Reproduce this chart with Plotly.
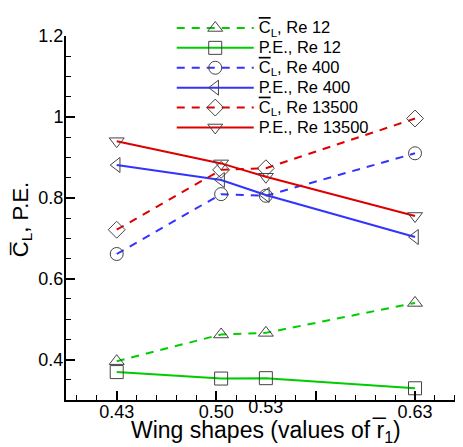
import plotly.graph_objects as go

# ---- data ----
r1 = [0.43, 0.50, 0.53, 0.63]
cl_re12 = [0.396, 0.462, 0.466, 0.540]
pe_re12 = [0.369, 0.353, 0.354, 0.329]
cl_re400 = [0.661, 0.809, 0.805, 0.910]
pe_re400 = [0.881, 0.844, 0.807, 0.703]
cl_re13500 = [0.721, 0.869, 0.873, 0.996]
pe_re13500 = [0.940, 0.885, 0.852, 0.755]

x_major_ticks = [0.43, 0.49667, 0.56333, 0.63]
x_major_labels = ["0.43", "0.50", "", "0.63"]
x_extra_ticks = [0.53]
x_extra_labels = ["0.53"]
y_ticks = [0.4, 0.6, 0.8, 1.0, 1.2]
y_labels = ["0.4", "0.6", "0.8", "1", "1.2"]

CL = '<span style="text-decoration:overline">C</span><sub>L</sub>'
X_TITLE = 'Wing shapes (values of r\u0305<sub>1</sub>)'
Y_TITLE = 'C\u0305<sub>L</sub>, P.E.'

series = [
    (CL + ", Re 12", cl_re12, "#00cc00", "dash", "triangle-up-open"),
    ("P.E., Re 12", pe_re12, "#00cc00", "solid", "square-open"),
    (CL + ", Re 400", cl_re400, "#3333ff", "dash", "circle-open"),
    ("P.E., Re 400", pe_re400, "#3333ff", "solid", "triangle-left-open"),
    (CL + ", Re 13500", cl_re13500, "#dd0000", "dash", "diamond-open"),
    ("P.E., Re 13500", pe_re13500, "#dd0000", "solid", "triangle-down-open"),
]

FONT = "Arial, Liberation Sans, sans-serif"
xr = [0.396, 0.6615]

fig = go.Figure()
for name, vals, col, dash, sym in series:
    fig.add_trace(go.Scatter(
        x=r1, y=vals, mode="lines+markers",
        name='<span style="font-size:16.5px">' + name + '</span>',
        line=dict(color=col, width=2, dash="8px,7px" if dash == "dash" else "solid"),
        marker=dict(symbol=sym, size=13, color="#444444", line=dict(width=1)),
    ))

fig.add_trace(go.Scatter(x=[None], y=[None], xaxis="x2", showlegend=False,
                         hoverinfo="skip"))

fig.add_annotation(text=Y_TITLE, xref="paper", yref="paper", x=0, y=0.494,
                   xanchor="center", yanchor="middle", xshift=-44, textangle=-90,
                   showarrow=False, font=dict(size=22, family=FONT, color="black"))
fig.add_annotation(text=X_TITLE, xref="paper", yref="paper", x=0.505, y=0,
                   xanchor="center", yanchor="middle", yshift=-31,
                   showarrow=False, font=dict(size=23, family=FONT, color="black"))

fig.update_layout(
    width=455, height=439,
    margin=dict(l=58, r=1, t=28, b=47, autoexpand=False),
    paper_bgcolor="white", plot_bgcolor="white",
    font=dict(family=FONT, color="black"),
    showlegend=True,
    legend=dict(x=0.267, y=0.9886, xref="paper", yref="container",
                xanchor="left", yanchor="top",
                bgcolor="rgba(0,0,0,0)", font=dict(size=13, family=FONT),
                itemwidth=77, tracegroupgap=0),
    xaxis=dict(range=xr, showgrid=False, zeroline=False, automargin=False,
               showline=True, linecolor="black", linewidth=2,
               tickmode="array", tickvals=x_major_ticks, ticktext=x_major_labels,
               ticks="inside", ticklen=9, tickwidth=2, tickcolor="black",
               minor=dict(tickmode="linear", tick0=0.43, dtick=0.2 / 15,
                          ticks="inside", ticklen=5, tickwidth=1, tickcolor="black"),
               tickfont=dict(size=18), ticklabelstandoff=-6),
    xaxis2=dict(range=xr, overlaying="x", anchor="y", side="bottom", automargin=False,
                showgrid=False, zeroline=False, showline=False,
                tickmode="array", tickvals=x_extra_ticks, ticktext=x_extra_labels,
                ticks="", tickfont=dict(size=18), ticklabelstandoff=-6),
    yaxis=dict(range=[0.3, 1.2], showgrid=False, zeroline=False, automargin=False,
               showline=True, linecolor="black", linewidth=2,
               tickmode="array", tickvals=y_ticks, ticktext=y_labels,
               ticks="inside", ticklen=9, tickwidth=2, tickcolor="black",
               minor=dict(tickmode="linear", tick0=0.3, dtick=0.05,
                          ticks="inside", ticklen=5, tickwidth=1, tickcolor="black"),
               tickfont=dict(size=18), ticklabelstandoff=-3),
)

fig.write_html("out.html")
